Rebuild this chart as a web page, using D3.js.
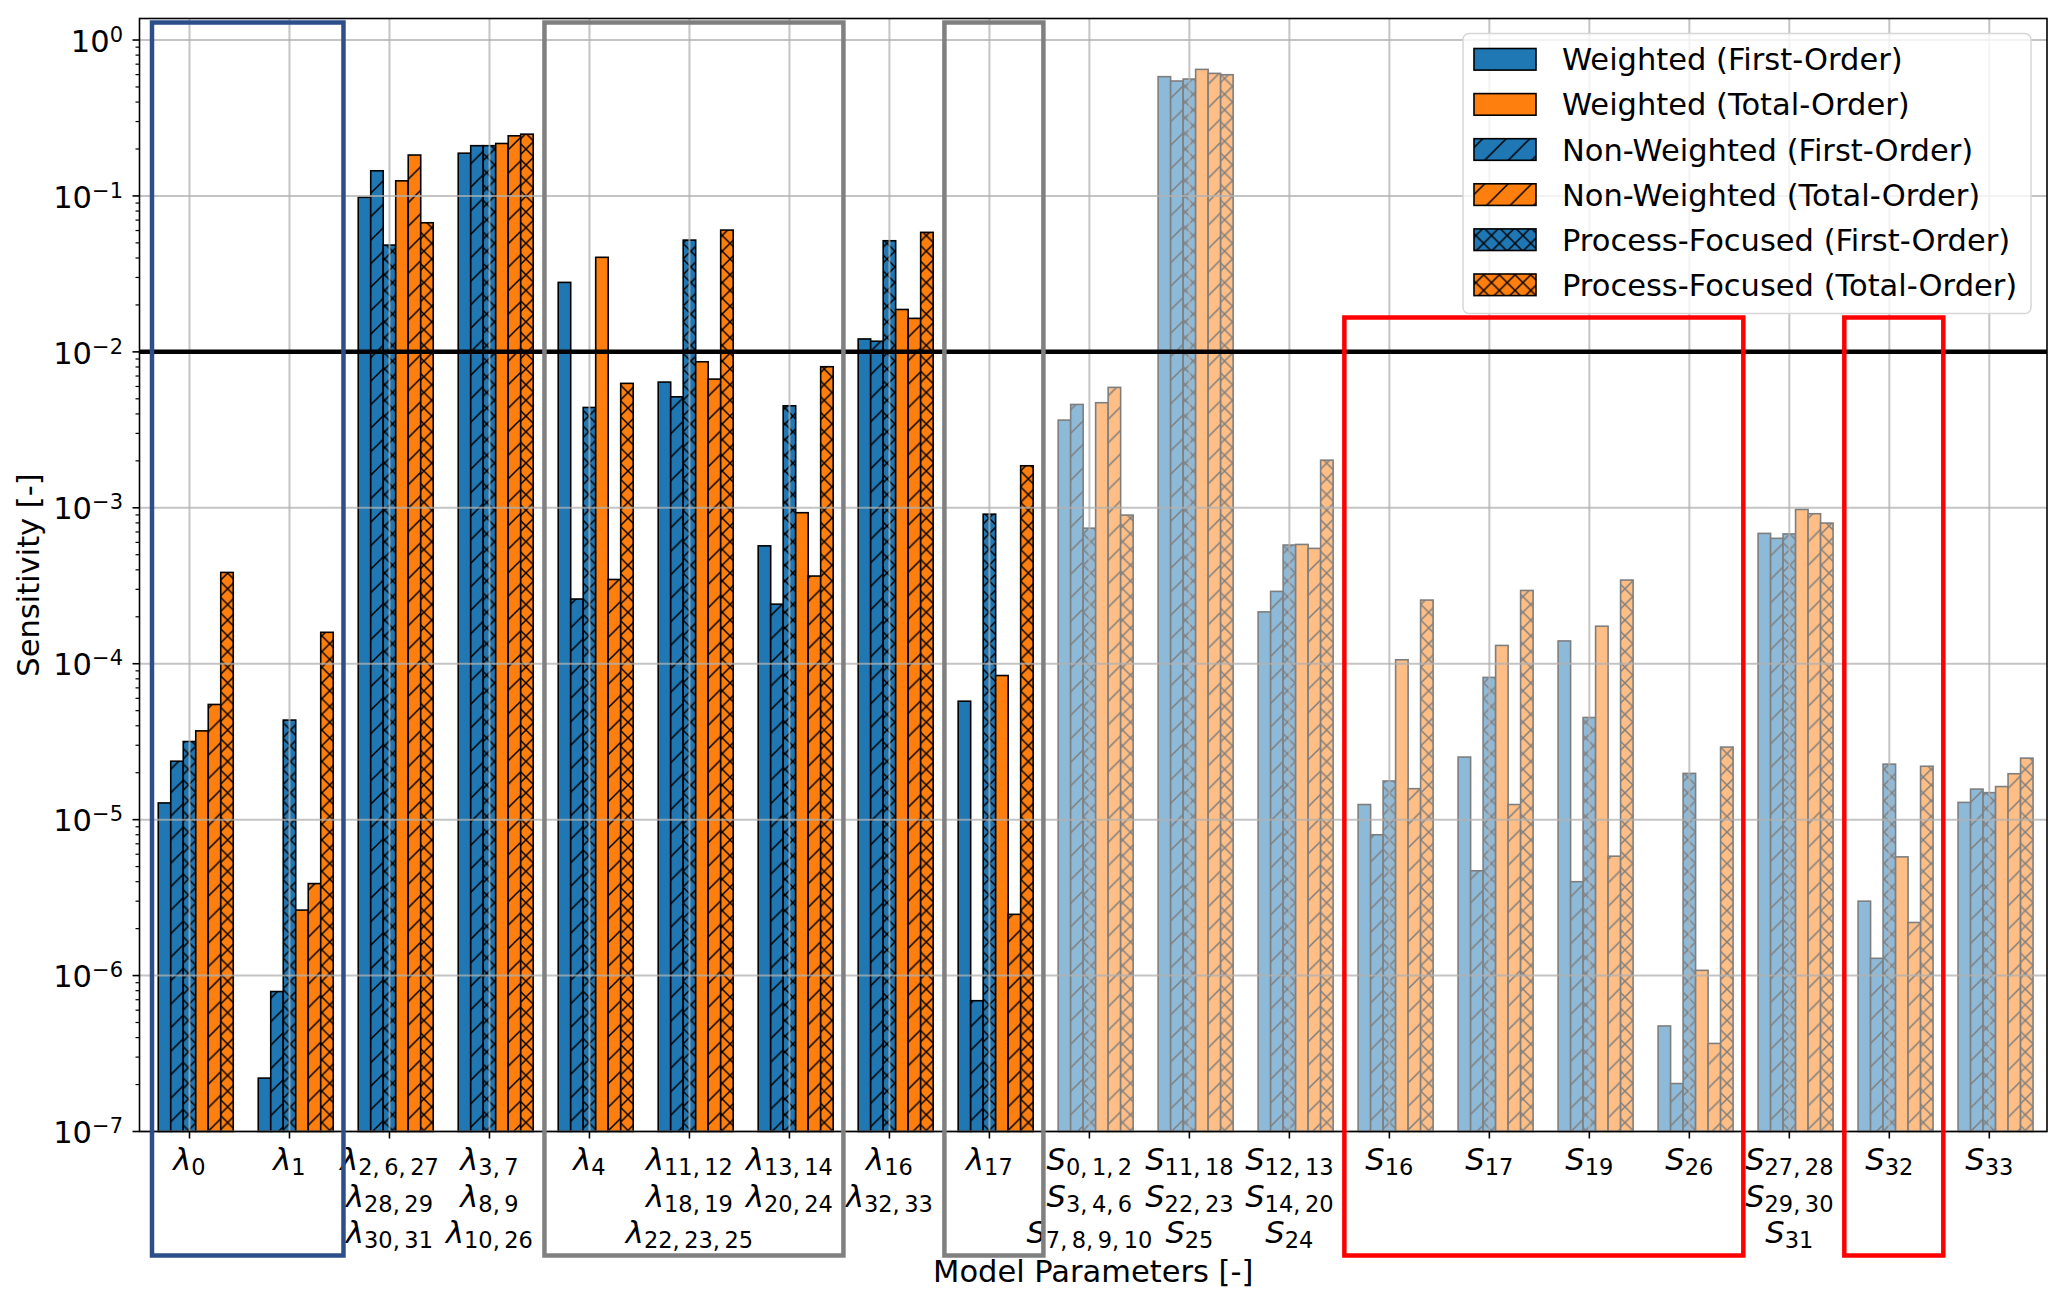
<!DOCTYPE html>
<html>
<head>
<meta charset="utf-8">
<script src="https://cdn.jsdelivr.net/npm/d3@7"></script>
<style>
body { margin: 0; background: #fff; }
text { font-family: "DejaVu Sans", sans-serif; fill: #000; }
</style>
</head>
<body>
<svg id="chart"></svg>
<script>
// parameter groups on the x axis, one entry per line of the tick label
var categories = [
    ["λ_0"], ["λ_1"], ["λ_2,6,27", "λ_28,29", "λ_30,31"], ["λ_3,7", "λ_8,9", "λ_10,26"],
    ["λ_4"], ["λ_11,12", "λ_18,19", "λ_22,23,25"], ["λ_13,14", "λ_20,24"], ["λ_16", "λ_32,33"],
    ["λ_17"], ["S_0,1,2", "S_3,4,6", "S_7,8,9,10"], ["S_11,18", "S_22,23", "S_25"],
    ["S_12,13", "S_14,20", "S_24"], ["S_16"], ["S_17"], ["S_19"], ["S_26"],
    ["S_27,28", "S_29,30", "S_31"], ["S_32"], ["S_33"]
];

var wFirst  = [1.28e-5, 2.2e-7, 0.098, 0.188, 0.0279, 6.4e-3, 5.7e-4, 0.0121, 5.75e-5, 3.65e-3, 0.582, 2.15e-4, 1.25e-5, 2.52e-5, 1.40e-4, 4.75e-7, 6.85e-4, 3.0e-6, 1.29e-5];
var nwFirst = [2.37e-5, 7.9e-7, 0.145, 0.210, 2.6e-4, 5.15e-3, 2.41e-4, 0.0117, 6.9e-7, 4.6e-3, 0.546, 2.91e-4, 8.0e-6, 4.7e-6, 4.0e-6, 2.03e-7, 6.37e-4, 1.29e-6, 1.57e-5];
var pfFirst = [3.17e-5, 4.35e-5, 0.0484, 0.210, 4.4e-3, 0.0521, 4.51e-3, 0.0516, 9.1e-4, 7.4e-4, 0.562, 5.77e-4, 1.77e-5, 8.17e-5, 4.52e-5, 1.98e-5, 6.8e-4, 2.27e-5, 1.49e-5];
var wTotal  = [3.71e-5, 2.63e-6, 0.125, 0.217, 0.0404, 8.64e-3, 9.3e-4, 0.0187, 8.4e-5, 4.72e-3, 0.648, 5.82e-4, 1.06e-4, 1.31e-4, 1.74e-4, 1.08e-6, 9.76e-4, 5.77e-6, 1.63e-5];
var nwTotal = [5.48e-5, 3.89e-6, 0.183, 0.243, 3.47e-4, 6.69e-3, 3.65e-4, 0.0164, 2.47e-6, 5.92e-3, 0.611, 5.49e-4, 1.58e-5, 1.25e-5, 5.83e-6, 3.67e-7, 9.16e-4, 2.19e-6, 1.97e-5];
var pfTotal = [3.85e-4, 1.59e-4, 0.0673, 0.249, 6.28e-3, 0.0604, 8.03e-3, 0.0584, 1.86e-3, 8.98e-4, 0.599, 2.02e-3, 2.56e-4, 2.95e-4, 3.44e-4, 2.92e-5, 7.98e-4, 2.2e-5, 2.48e-5];

var threshold = 1e-2;
var yTickExponents = [0, -1, -2, -3, -4, -5, -6, -7];

// highlighted parameter ranges (first and last category index)
var highlights = [
    { from: 0, to: 1, kind: "blue" },
    { from: 4, to: 6, kind: "gray" },
    { from: 8, to: 8, kind: "gray" },
    { from: 12, to: 15, kind: "red" },
    { from: 17, to: 17, kind: "red" }
];

var series = [
    { name: "Weighted (First-Order)", data: wFirst, color: "#1f77b4", hatch: null },
    { name: "Non-Weighted (First-Order)", data: nwFirst, color: "#1f77b4", hatch: "slash" },
    { name: "Process-Focused (First-Order)", data: pfFirst, color: "#1f77b4", hatch: "cross" },
    { name: "Weighted (Total-Order)", data: wTotal, color: "#ff7f0e", hatch: null },
    { name: "Non-Weighted (Total-Order)", data: nwTotal, color: "#ff7f0e", hatch: "slash" },
    { name: "Process-Focused (Total-Order)", data: pfTotal, color: "#ff7f0e", hatch: "cross" }
];
var legendOrder = [0, 3, 1, 4, 2, 5];

var svgWidth = 2067, svgHeight = 1306;
var plot = { left: 139.5, right: 2047, top: 18.5, bottom: 1131.5 };
var boxColors = { blue: "#2c4f8c", gray: "#808080", red: "#ff0000" };
var fs = 30.5;

var svg = d3.select("#chart")
    .attr("width", svgWidth)
    .attr("height", svgHeight);

var x = d3.scaleLinear().domain([-0.5, 18.577]).range([plot.left, plot.right]);
var y = d3.scaleLog().domain([1e-7, Math.pow(10, 0.138)]).range([plot.bottom, plot.top]);
var barW = x(0.125) - x(0);

// hatch patterns, in page coordinates so they line up across bars
var defs = svg.append("defs");
var sl = 23.5;
defs.append("pattern")
    .attr("id", "slash")
    .attr("patternUnits", "userSpaceOnUse")
    .attr("width", sl).attr("height", sl)
    .append("path")
    .attr("d", "M-2," + (sl + 2) + "L" + (sl + 2) + ",-2M-6,6L6,-6M" + (sl - 6) + "," + (sl + 6) + "L" + (sl + 6) + "," + (sl - 6))
    .attr("stroke", "#000").attr("stroke-width", 1.5).attr("fill", "none");
var cs = 15.7;
defs.append("pattern")
    .attr("id", "cross")
    .attr("patternUnits", "userSpaceOnUse")
    .attr("width", cs).attr("height", cs)
    .append("path")
    .attr("d", "M-2,-2L" + (cs + 2) + "," + (cs + 2) + "M-2," + (cs + 2) + "L" + (cs + 2) + ",-2")
    .attr("stroke", "#000").attr("stroke-width", 1.4).attr("fill", "none");

// bars
var barsG = svg.append("g");
categories.forEach(function(lines, i) {
    var faded = lines[0].charAt(0) == "S";
    var cg = barsG.append("g").attr("opacity", faded ? 0.5 : 1);
    series.forEach(function(s, k) {
        var v = s.data[i];
        var bx = x(i + (k - 2) * 0.125) - barW / 2;
        var by = y(v);
        var bh = y(1e-7) - by;
        cg.append("rect")
            .attr("x", bx).attr("y", by).attr("width", barW).attr("height", bh)
            .attr("fill", s.color);
        if (s.hatch) {
            cg.append("rect")
                .attr("x", bx).attr("y", by).attr("width", barW).attr("height", bh)
                .attr("fill", "url(#" + s.hatch + ")");
        }
        cg.append("rect")
            .attr("x", bx).attr("y", by).attr("width", barW).attr("height", bh)
            .attr("fill", "none").attr("stroke", "#000").attr("stroke-width", 1.6);
    });
});

// grid drawn on top of the bars
var grid = svg.append("g")
    .attr("stroke", "#b0b0b0").attr("stroke-opacity", 0.75).attr("stroke-width", 2);
categories.forEach(function(c, i) {
    grid.append("line").attr("x1", x(i)).attr("x2", x(i)).attr("y1", plot.top).attr("y2", plot.bottom);
});
yTickExponents.forEach(function(e) {
    grid.append("line").attr("x1", plot.left).attr("x2", plot.right)
        .attr("y1", y(Math.pow(10, e))).attr("y2", y(Math.pow(10, e)));
});

// threshold line
svg.append("line")
    .attr("x1", plot.left).attr("x2", plot.right)
    .attr("y1", y(threshold)).attr("y2", y(threshold))
    .attr("stroke", "#000").attr("stroke-width", 4.5);

// frame
svg.append("rect")
    .attr("x", plot.left).attr("y", plot.top)
    .attr("width", plot.right - plot.left).attr("height", plot.bottom - plot.top)
    .attr("fill", "none").attr("stroke", "#000").attr("stroke-width", 1.6);

// y axis ticks and labels
var yAxis = svg.append("g");
yTickExponents.forEach(function(e) {
    var ty = y(Math.pow(10, e));
    yAxis.append("line").attr("x1", plot.left - 7).attr("x2", plot.left)
        .attr("y1", ty).attr("y2", ty).attr("stroke", "#000").attr("stroke-width", 1.6);
    var t = yAxis.append("text")
        .attr("x", 123).attr("y", ty + 11.7)
        .attr("text-anchor", "end").attr("font-size", fs);
    t.append("tspan").text("10");
    t.append("tspan").attr("font-size", 21).attr("dy", -10)
        .text(e < 0 ? "\u2212" + (-e) : String(e));
    if (e < 0) {
        for (var m = 2; m < 10; m++) {
            var my = y(m * Math.pow(10, e));
            yAxis.append("line").attr("x1", plot.left - 4).attr("x2", plot.left)
                .attr("y1", my).attr("y2", my).attr("stroke", "#000").attr("stroke-width", 1.2);
        }
    }
});

// x axis ticks and labels
var xAxis = svg.append("g");
categories.forEach(function(lines, i) {
    xAxis.append("line").attr("x1", x(i)).attr("x2", x(i))
        .attr("y1", plot.bottom).attr("y2", plot.bottom + 7)
        .attr("stroke", "#000").attr("stroke-width", 1.6);
    lines.forEach(function(line, r) {
        var parts = line.split("_");
        var t = xAxis.append("text")
            .attr("x", x(i)).attr("y", 1170 + r * 36.7)
            .attr("text-anchor", "middle").attr("font-size", fs);
        t.append("tspan").attr("font-style", "italic").text(parts[0]);
        t.append("tspan").attr("font-size", 22.5).attr("dy", 5).text(parts[1].split(",").join(",\u2009"));
    });
});

svg.append("text")
    .attr("x", (plot.left + plot.right) / 2).attr("y", 1282)
    .attr("text-anchor", "middle").attr("font-size", fs)
    .text("Model Parameters [-]");

svg.append("text")
    .attr("transform", "translate(39," + (plot.top + plot.bottom) / 2 + ") rotate(-90)")
    .attr("text-anchor", "middle").attr("font-size", fs)
    .text("Sensitivity [-]");

// highlight boxes
highlights.forEach(function(h) {
    var padL = h.kind == "blue" ? 0.375 : 0.45;
    var x0 = x(h.from - padL), x1 = x(h.to + 0.54);
    var y0 = h.kind == "red" ? 317.5 : plot.top + 4;
    var y1 = 1255.5;
    svg.append("rect")
        .attr("x", x0).attr("y", y0).attr("width", x1 - x0).attr("height", y1 - y0)
        .attr("fill", "none").attr("stroke", boxColors[h.kind]).attr("stroke-width", 4.5);
});

// legend
var lg = svg.append("g");
lg.append("rect")
    .attr("x", 1463).attr("y", 33.5).attr("width", 568).attr("height", 280)
    .attr("rx", 6).attr("fill", "#fff").attr("fill-opacity", 0.8)
    .attr("stroke", "#d6d6d6").attr("stroke-width", 1.5);
legendOrder.forEach(function(k, r) {
    var s = series[k];
    var cy = 59.3 + r * 45.1;
    lg.append("rect").attr("x", 1474).attr("y", cy - 10.8).attr("width", 62).attr("height", 21.6)
        .attr("fill", s.color);
    if (s.hatch) {
        lg.append("rect").attr("x", 1474).attr("y", cy - 10.8).attr("width", 62).attr("height", 21.6)
            .attr("fill", "url(#" + s.hatch + ")");
    }
    lg.append("rect").attr("x", 1474).attr("y", cy - 10.8).attr("width", 62).attr("height", 21.6)
        .attr("fill", "none").attr("stroke", "#000").attr("stroke-width", 1.6);
    lg.append("text").attr("x", 1562).attr("y", cy + 11).attr("font-size", fs).text(s.name);
});
</script>
</body>
</html>
